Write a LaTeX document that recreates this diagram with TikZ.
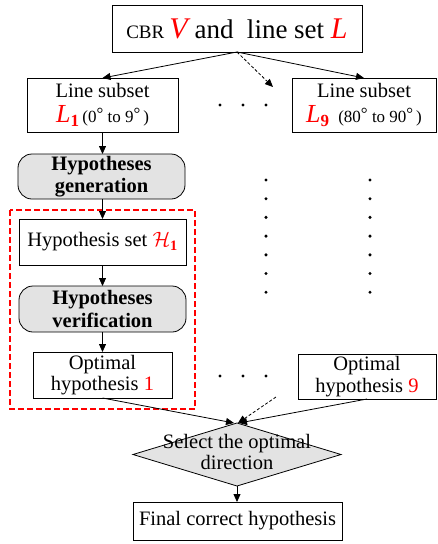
\documentclass[tikz,border=0pt]{standalone}
\usepackage{fontspec}
\setmainfont{Liberation Serif}
\usetikzlibrary{shapes.geometric,arrows.meta}
\newcommand{\degr}{\raisebox{3pt}{°}}
\begin{document}
\begin{tikzpicture}[x=1pt,y=-1pt,
  every node/.style={inner sep=0pt,outer sep=0pt,align=center,font=\fontsize{20.5}{21.5}\selectfont},
  box/.style={draw,line width=0.8pt,fill=white},
  proc/.style={draw,line width=0.8pt,fill=black!11,rounded corners=14pt,font=\fontsize{20.5}{22.5}\selectfont\bfseries},
  arr/.style={line width=0.8pt,-{Triangle[length=8pt,width=7pt]}},
  darr/.style={arr,dash pattern=on 3pt off 2pt},
  dotc/.style={fill=black}
]
\useasboundingbox (0,0) rectangle (438,544);
% red dashed group box
\draw[red,line width=1.2pt,dash pattern=on 6pt off 3pt] (10,210) rectangle (195,409);

\node[box,minimum width=250pt,minimum height=47pt] (top) at (237,28.5)
  {{\fontsize{19}{20}\selectfont CBR} {\color{red}\fontsize{30}{30}\selectfont\itshape V}{\fontsize{27}{27}\selectfont\ and \ line set }{\color{red}\fontsize{30}{30}\selectfont\itshape L}};

\node[box,minimum width=151pt,minimum height=54pt] (l1) at (102.5,105)
  {Line subset\\[3pt]{\color{red}\fontsize{26}{26}\selectfont\itshape L\raisebox{-4pt}{\upshape\bfseries\fontsize{17}{17}\selectfont 1}}\,{\fontsize{17}{17}\selectfont (0\degr\ to 9\degr\,)}};
\node[box,minimum width=144pt,minimum height=54pt] (l9) at (364,105)
  {Line subset\\[3pt]{\color{red}\fontsize{26}{26}\selectfont\itshape L\raisebox{-4pt}{\upshape\bfseries\fontsize{17}{17}\selectfont 9}}\;\,{\fontsize{17}{17}\selectfont (80\degr\ to 90\degr\,)}};

\node[proc,minimum width=167pt,minimum height=45pt] (gen) at (101.5,176.5) {Hypotheses\\generation};
\node[box,minimum width=167pt,minimum height=46pt] (hset) at (102.5,242)
  {Hypothesis set {\color{red}$\mathcal{H}_{\mathbf{1}}$}};
\node[proc,minimum width=167pt,minimum height=46pt] (ver) at (102.5,309) {Hypotheses\\verification};
\node[box,minimum width=139pt,minimum height=46pt] (opt1) at (102.5,375)
  {Optimal\\hypothesis {\color{red}1}};
\node[box,minimum width=138pt,minimum height=45pt] (opt9) at (367,376.5)
  {Optimal\\hypothesis {\color{red}9}};

\node[draw,diamond,line width=0.8pt,fill=black!11,minimum width=208pt,minimum height=63pt] (sel) at (237,454.5) {};
\node (seltext) at (237,452) {Select the optimal\\direction};

\node[box,minimum width=209pt,minimum height=38pt] (fin) at (237.5,521) {Final correct hypothesis};

% horizontal dots
\foreach \x in {220,243,266} {
  \fill[dotc] (\x,105) circle (1.7pt);
  \fill[dotc] (\x,376) circle (1.7pt);
}
% vertical dots
\foreach \y in {180,198.7,...,293} {
  \fill[dotc] (266,\y) circle (1.7pt);
  \fill[dotc] (370,\y) circle (1.7pt);
}

\coordinate (dtop) at (273,87);
\coordinate (dbot) at (276,397);

\draw[arr] (top.south) -- (l1.north);
\draw[arr] (top.south) -- (l9.north);
\draw[darr] (top.south) -- (dtop);
\draw[arr] (l1.south) -- (gen.north -| l1.south);
\draw[arr] (gen.south -| hset.north) -- (hset.north);
\draw[arr] (hset.south) -- (ver.north);
\draw[arr] (ver.south) -- (opt1.north);
\draw[arr] (opt1.south) -- ([xshift=-3pt]sel.north);
\draw[arr] (opt9.south) -- ([xshift=2pt]sel.north);
\draw[darr] (dbot) -- ([xshift=1pt]sel.north);
\draw[arr] (sel.south) -- (fin.north -| sel.south);
\end{tikzpicture}
\end{document}
